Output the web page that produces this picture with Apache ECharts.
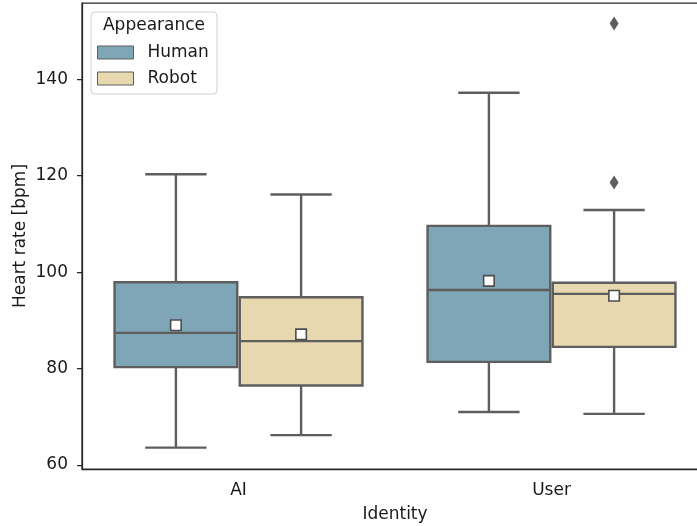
<!DOCTYPE html>
<html>
<head>
<meta charset="utf-8">
<script src="https://cdn.jsdelivr.net/npm/echarts@6/dist/echarts.min.js"></script>
<style>html,body{margin:0;padding:0;background:#fff}#c{width:697px;height:526px}</style>
</head>
<body>
<div id="c"></div>
<script>
// ---- data ----
const categories = ['AI', 'User'];
const hues = ['Human', 'Robot'];
// [lowWhisker, Q1, median, Q3, highWhisker]
const humanBox = [[63.6, 80.3, 87.4, 97.9, 120.3], [71.0, 81.4, 96.3, 109.6, 137.2]];
const robotBox = [[66.2, 76.5, 85.7, 94.8, 116.1], [70.6, 84.5, 95.5, 97.8, 112.9]];
const humanMean = [89.0, 98.2];
const robotMean = [87.1, 95.1];
// outliers: [categoryIndex, hueIndex, value]
const outliers = [[1, 1, 151.6], [1, 1, 118.6]];
const yTicks = [60, 80, 100, 120, 140];

const hueColors = ['#7ea6b6', '#e7d8b0'];
const lineColor = '#5e5e5e';
const meanEdge = '#4d4d4d';
const textColor = '#1a1a1a';
const FONT = 'DejaVu Sans';

function boxData(box, mean) {
  return box.map((b, i) => [i, b[0], b[1], b[2], b[3], b[4], mean[i]]);
}

function makeRender(hue) {
  return function (params, api) {
    const cat = api.value(0);
    const band = api.size([1, 0])[0];
    const off = (hue === 0 ? -0.2 : 0.2) * band;
    const hw = 0.392 * band / 2;
    const cw = hw / 2;
    const cx = api.coord([cat, 0])[0] + off;
    const y = [1, 2, 3, 4, 5, 6].map(d => api.coord([cat, api.value(d)])[1]);
    const lw = 2.4;
    const ls = { stroke: lineColor, lineWidth: lw };
    const ms = 10.5;
    return {
      type: 'group',
      children: [
        { type: 'line', shape: { x1: cx, y1: y[0], x2: cx, y2: y[1] }, style: ls },
        { type: 'line', shape: { x1: cx, y1: y[3], x2: cx, y2: y[4] }, style: ls },
        { type: 'line', shape: { x1: cx - cw, y1: y[0], x2: cx + cw, y2: y[0] }, style: ls },
        { type: 'line', shape: { x1: cx - cw, y1: y[4], x2: cx + cw, y2: y[4] }, style: ls },
        { type: 'rect', shape: { x: cx - hw, y: y[3], width: 2 * hw, height: y[1] - y[3] },
          style: { fill: hueColors[hue], stroke: lineColor, lineWidth: lw } },
        { type: 'line', shape: { x1: cx - hw, y1: y[2], x2: cx + hw, y2: y[2] }, style: ls },
        { type: 'rect', shape: { x: cx - ms / 2, y: y[5] - ms / 2, width: ms, height: ms },
          style: { fill: '#ffffff', stroke: meanEdge, lineWidth: 1.6 } }
      ]
    };
  };
}

function renderOutlier(params, api) {
  const cat = api.value(0);
  const hue = api.value(1);
  const band = api.size([1, 0])[0];
  const off = (hue === 0 ? -0.2 : 0.2) * band;
  const p = api.coord([cat, api.value(2)]);
  const x = p[0] + off, yy = p[1];
  const w = 4.5, h = 7;
  return {
    type: 'polygon',
    shape: { points: [[x, yy - h], [x + w, yy], [x, yy + h], [x - w, yy]] },
    style: { fill: lineColor }
  };
}

const chart = echarts.init(document.getElementById('c'), null, { renderer: 'canvas' });
chart.setOption({
  animation: false,
  textStyle: { fontFamily: FONT },
  grid: { left: 82, top: 3, width: 626, bottom: 57, containLabel: false, outerBoundsMode: 'none',
    show: true, borderColor: '#262626', borderWidth: 1.25, backgroundColor: 'transparent' },
  xAxis: {
    type: 'category',
    data: categories,
    boundaryGap: true,
    name: 'Identity',
    nameLocation: 'middle',
    nameGap: 37,
    nameMoveOverlap: false,
    nameTextStyle: { fontSize: 17, color: textColor, fontFamily: FONT },
    axisLine: { lineStyle: { color: '#262626', width: 1.25 } },
    axisTick: { alignWithLabel: true, length: 5, lineStyle: { color: '#262626', width: 1.25 } },
    axisLabel: { fontSize: 17, color: textColor, margin: 13, fontFamily: FONT },
    splitLine: { show: false }
  },
  yAxis: {
    type: 'value',
    min: 59.17,
    max: 155.83,
    name: 'Heart rate [bpm]',
    nameLocation: 'middle',
    nameGap: 53,
    nameMoveOverlap: false,
    nameTextStyle: { fontSize: 17, color: textColor, fontFamily: FONT },
    axisLine: { show: true, lineStyle: { color: '#262626', width: 1.25 } },
    axisTick: { show: true, length: 5, customValues: yTicks, lineStyle: { color: '#262626', width: 1.25 } },
    axisLabel: { fontSize: 17, color: textColor, margin: 14, customValues: yTicks, fontFamily: FONT },
    splitLine: { show: false }
  },
  legend: {
    orient: 'vertical',
    left: 97,
    top: 44,
    padding: 0,
    itemWidth: 36,
    itemHeight: 13,
    itemGap: 9,
    icon: 'rect',
    selectedMode: false,
    z: 10,
    textStyle: { fontSize: 17, color: textColor, fontFamily: FONT, padding: [0, 0, 0, 9] },
    data: hues.map((h, i) => ({ name: h, itemStyle: { color: hueColors[i], borderColor: lineColor, borderWidth: 1 } }))
  },
  graphic: [
    { type: 'rect', z: 5, shape: { x: 91, y: 12, width: 126, height: 82, r: 4 },
      style: { fill: 'rgba(255,255,255,0.85)', stroke: '#d0d0d0', lineWidth: 1 } },
    { type: 'text', z: 6, x: 154, y: 26,
      style: { text: 'Appearance', fontSize: 17, fontFamily: FONT, fill: textColor, textAlign: 'center', textVerticalAlign: 'middle' } }
  ],
  series: [
    { name: 'Human', type: 'custom', itemStyle: { color: hueColors[0] }, renderItem: makeRender(0),
      encode: { x: 0, y: [1, 2, 3, 4, 5] }, data: boxData(humanBox, humanMean) },
    { name: 'Robot', type: 'custom', itemStyle: { color: hueColors[1] }, renderItem: makeRender(1),
      encode: { x: 0, y: [1, 2, 3, 4, 5] }, data: boxData(robotBox, robotMean) },
    { name: 'outliers', type: 'custom', renderItem: renderOutlier, encode: { x: 0, y: 2 }, data: outliers }
  ]
});
</script>
</body>
</html>
